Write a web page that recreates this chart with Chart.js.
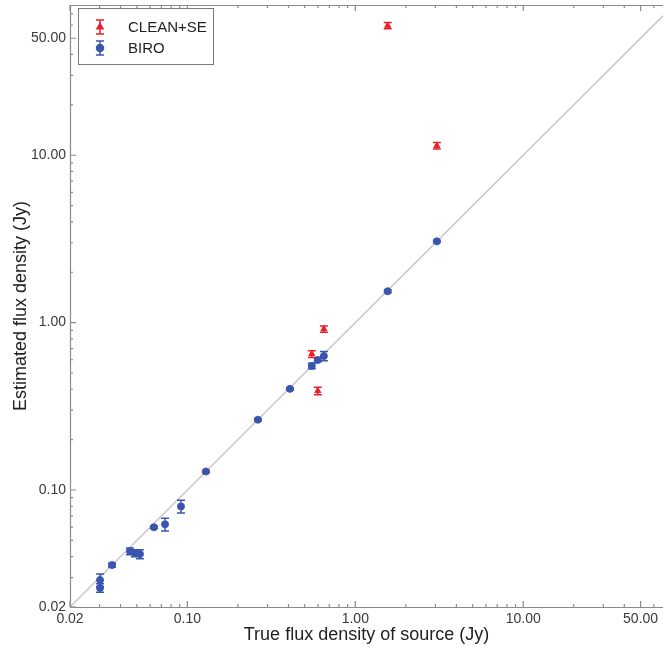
<!DOCTYPE html>
<html>
<head>
<meta charset="utf-8">
<script src="https://cdn.jsdelivr.net/npm/chart.js@4.4.0/dist/chart.umd.min.js"></script>
<style>
  html, body { margin: 0; padding: 0; background: #fff; }
  #wrap { width: 663px; height: 647px; }
</style>
</head>
<body>
<div id="wrap"><canvas id="fluxChart"></canvas></div>
<script>
// values (Jy)
var biroTrue = [0.0302, 0.0302, 0.0356, 0.0455, 0.0488, 0.0522, 0.0632, 0.0736, 0.0916, 0.129, 0.263, 0.408, 0.551, 0.598, 0.650, 1.56, 3.06];
var biroEst  = [0.0290, 0.0260, 0.0356, 0.0431, 0.0419, 0.0414, 0.0599, 0.0624, 0.0798, 0.129, 0.263, 0.402, 0.551, 0.598, 0.632, 1.54, 3.06];
var biroErr  = [0.0025, 0.0015, 0.0010, 0.0020, 0.0020, 0.0025, 0.0010, 0.0055, 0.0070, 0.002, 0.004, 0.006, 0.020, 0.015, 0.040, 0.03, 0.05];

var cleanTrue = [0.551, 0.598, 0.650, 1.56, 3.06];
var cleanEst  = [0.650, 0.391, 0.916, 59.5, 11.4];
var cleanErr  = [0.030, 0.020, 0.040, 2.5, 0.5];

var tickValues  = [0.02, 0.1, 1, 10, 50];
var minorValues = [0.03, 0.04, 0.05, 0.06, 0.07, 0.08, 0.09, 0.2, 0.3, 0.4, 0.5, 0.6, 0.7, 0.8, 0.9,
                   2, 3, 4, 5, 6, 7, 8, 9, 20, 30, 40, 60, 70];

var axisMin = 0.02, xMax = 68, yMax = 79;

function pts(xs, ys) {
  return xs.map(function(v, i) { return { x: v, y: ys[i] }; });
}

// vertical error bars with caps
var errorBars = {
  id: 'errorBars',
  afterDatasetsDraw: function(chart) {
    var ctx = chart.ctx, xs = chart.scales.x, ys = chart.scales.y;
    chart.data.datasets.forEach(function(ds) {
      if (!ds.errors) return;
      ctx.save();
      ctx.strokeStyle = ds.borderColor;
      ctx.lineWidth = 1.5;
      ds.data.forEach(function(p, j) {
        var px = xs.getPixelForValue(p.x);
        var top = ys.getPixelForValue(p.y + ds.errors[j]);
        var bot = ys.getPixelForValue(p.y - ds.errors[j]);
        ctx.beginPath();
        ctx.moveTo(px, top); ctx.lineTo(px, bot);
        ctx.moveTo(px - 4, top); ctx.lineTo(px + 4, top);
        ctx.moveTo(px - 4, bot); ctx.lineTo(px + 4, bot);
        ctx.stroke();
      });
      ctx.restore();
    });
  }
};

// frame (left, top, bottom) and inward tick marks
var frame = {
  id: 'frame',
  afterDraw: function(chart) {
    var ctx = chart.ctx, a = chart.chartArea, xs = chart.scales.x, ys = chart.scales.y;
    ctx.save();
    ctx.strokeStyle = '#8a8a8a';
    ctx.lineWidth = 1.2;
    ctx.beginPath();
    ctx.moveTo(a.right, a.top + 0.5);
    ctx.lineTo(a.left + 0.5, a.top + 0.5);
    ctx.lineTo(a.left + 0.5, a.bottom + 0.5);
    ctx.lineTo(a.right, a.bottom + 0.5);
    ctx.stroke();
    function mark(v, len) {
      var px = xs.getPixelForValue(v), py = ys.getPixelForValue(v);
      ctx.beginPath();
      if (v <= xMax && v >= axisMin) {
        ctx.moveTo(px, a.bottom); ctx.lineTo(px, a.bottom - len);
        ctx.moveTo(px, a.top); ctx.lineTo(px, a.top + len);
      }
      if (v <= yMax && v >= axisMin) {
        ctx.moveTo(a.left, py); ctx.lineTo(a.left + len, py);
      }
      ctx.stroke();
    }
    tickValues.forEach(function(v) { mark(v, 6); });
    minorValues.forEach(function(v) { mark(v, 3); });
    ctx.restore();
  }
};

// boxed legend in the upper left corner
var boxLegend = {
  id: 'boxLegend',
  afterDraw: function(chart) {
    var ctx = chart.ctx, a = chart.chartArea;
    var items = chart.data.datasets.filter(function(ds) { return ds.errors; });
    var x0 = a.left + 8, y0 = a.top + 3;
    ctx.save();
    ctx.strokeStyle = '#7a7a7a';
    ctx.lineWidth = 1;
    ctx.fillStyle = '#fff';
    ctx.fillRect(x0, y0, 135, 56);
    ctx.strokeRect(x0 + 0.5, y0 + 0.5, 135, 56);
    items.forEach(function(ds, i) {
      var cx = x0 + 22, cy = y0 + 19 + i * 21;
      ctx.strokeStyle = ds.borderColor;
      ctx.fillStyle = ds.backgroundColor;
      ctx.lineWidth = 1.5;
      ctx.beginPath();
      ctx.moveTo(cx, cy - 7); ctx.lineTo(cx, cy + 7);
      ctx.moveTo(cx - 4, cy - 7); ctx.lineTo(cx + 4, cy - 7);
      ctx.moveTo(cx - 4, cy + 7); ctx.lineTo(cx + 4, cy + 7);
      ctx.stroke();
      Chart.helpers.drawPoint(ctx, { pointStyle: ds.pointStyle, radius: 3.5, borderWidth: 1 }, cx, cy);
      ctx.fill();
      ctx.fillStyle = '#222';
      ctx.font = '15px "Liberation Sans", Arial, sans-serif';
      ctx.textBaseline = 'middle';
      ctx.fillText(ds.label, x0 + 50, cy + 1);
    });
    ctx.restore();
  }
};

function fmt(v) { return Number(v).toFixed(2); }

function setTicks(scale) {
  scale.ticks = tickValues.filter(function(v) { return v <= scale.max; })
                          .map(function(v) { return { value: v }; });
}

var tickFont = { family: '"Liberation Sans", Arial, sans-serif', size: 14 };
var titleFont = { family: '"Liberation Sans", Arial, sans-serif', size: 18 };

new Chart(document.getElementById('fluxChart'), {
  type: 'scatter',
  data: {
    datasets: [
      {
        label: 'CLEAN+SE',
        data: pts(cleanTrue, cleanEst),
        errors: cleanErr,
        pointStyle: 'triangle',
        pointRadius: 3.5,
        backgroundColor: '#e8202a',
        borderColor: '#e8202a',
        borderWidth: 1,
        order: 1
      },
      {
        label: 'BIRO',
        data: pts(biroTrue, biroEst),
        errors: biroErr,
        pointStyle: 'circle',
        pointRadius: 3.5,
        backgroundColor: '#3a55b0',
        borderColor: '#3a55b0',
        borderWidth: 1,
        order: 0
      },
      {
        type: 'line',
        label: 'one to one',
        data: [{ x: axisMin, y: axisMin }, { x: 100, y: 100 }],
        borderColor: '#c8c8c8',
        borderWidth: 1.5,
        pointRadius: 0,
        order: 5
      }
    ]
  },
  options: {
    responsive: true,
    maintainAspectRatio: false,
    animation: false,
    layout: { autoPadding: false, padding: { top: 5, right: 0, left: 0, bottom: 0 } },
    plugins: {
      legend: { display: false },
      tooltip: { enabled: false }
    },
    scales: {
      x: {
        type: 'logarithmic',
        min: axisMin,
        max: xMax,
        grid: { display: false, drawTicks: false, tickLength: 0 },
        border: { display: false },
        afterBuildTicks: setTicks,
        afterFit: function(scale) { scale.height = 40; scale.paddingRight = 0; scale.paddingLeft = 0; },
        ticks: {
          autoSkip: false,
          maxRotation: 0,
          padding: 4,
          color: '#3a3a3a',
          font: tickFont,
          callback: function(v) { return fmt(v); }
        },
        title: {
          display: true,
          text: 'True flux density of source (Jy)',
          color: '#222',
          padding: { top: 0, bottom: 1 },
          font: titleFont
        }
      },
      y: {
        type: 'logarithmic',
        min: axisMin,
        max: yMax,
        grid: { display: false, drawTicks: false, tickLength: 0 },
        border: { display: false },
        afterBuildTicks: setTicks,
        afterFit: function(scale) { scale.width = 70; scale.paddingTop = 0; scale.paddingBottom = 0; },
        ticks: {
          autoSkip: false,
          padding: 4,
          color: '#3a3a3a',
          font: tickFont,
          callback: function(v) { return fmt(v); }
        },
        title: {
          display: true,
          text: 'Estimated flux density (Jy)',
          color: '#222',
          padding: { top: 10, bottom: 0 },
          font: titleFont
        }
      }
    }
  },
  plugins: [errorBars, frame, boxLegend]
});
</script>
</body>
</html>
